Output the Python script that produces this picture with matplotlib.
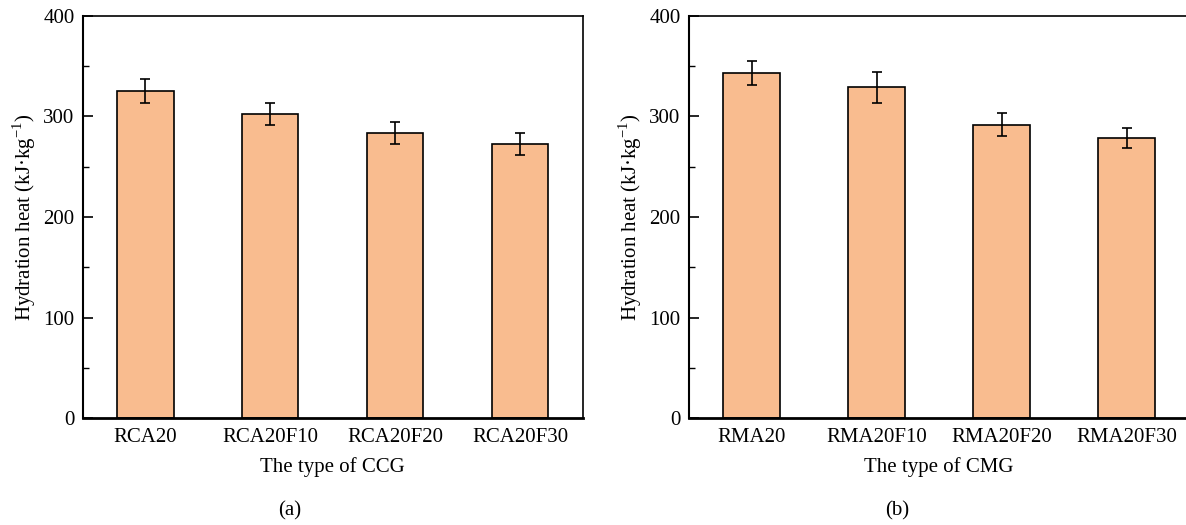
import numpy as np
import matplotlib
matplotlib.use('Agg')
import matplotlib.pyplot as plt
from matplotlib.ticker import MultipleLocator

plt.rcParams['font.family'] = ['Liberation Serif', 'DejaVu Serif']
plt.rcParams['mathtext.fontset'] = 'custom'
plt.rcParams['mathtext.rm'] = 'Liberation Serif'

# 数据
ccg_labels = ['RCA20', 'RCA20F10', 'RCA20F20', 'RCA20F30']
ccg_heat = [325.3, 302.5, 283.3, 272.7]
ccg_err = [11.9, 11.0, 10.8, 10.8]

cmg_labels = ['RMA20', 'RMA20F10', 'RMA20F20', 'RMA20F30']
cmg_heat = [343.3, 328.7, 291.8, 278.6]
cmg_err = [11.9, 15.0, 11.3, 10.3]

BAR_COLOR = '#F9BC8F'
FS = 15

fig = plt.figure(figsize=(11.86, 5.25), dpi=100)
W, H = 1186.0, 525.0
ax_a = fig.add_axes([83 / W, 1 - 418.3 / H, (582.7 - 83) / W, (418.3 - 15.7) / H])
ax_b = fig.add_axes([689 / W, 1 - 418.3 / H, (1189 - 689) / W, (418.3 - 15.7) / H])


def draw_panel(ax, labels, heat, err, xlabel):
    x = np.arange(len(labels))
    ax.bar(x, heat, width=0.45, color=BAR_COLOR, edgecolor='black', linewidth=1.2, zorder=2)
    ax.errorbar(x, heat, yerr=err, fmt='none', ecolor='black', elinewidth=1.2,
                capsize=3.5, capthick=1.2, zorder=3)
    ax.set_xlim(-0.5, len(labels) - 0.5)
    ax.set_ylim(0, 400)
    ax.set_xticks(x)
    ax.set_xticklabels(labels, fontsize=FS)
    ax.yaxis.set_major_locator(MultipleLocator(100))
    ax.yaxis.set_minor_locator(MultipleLocator(50))
    ax.tick_params(axis='y', which='major', direction='in', length=7, width=1.2, labelsize=FS, pad=6)
    ax.tick_params(axis='y', which='minor', direction='in', length=4, width=1.0)
    ax.tick_params(axis='x', which='major', direction='in', length=6, width=1.2, pad=7)
    ax.spines['left'].set_linewidth(1.5)
    ax.spines['bottom'].set_linewidth(2.0)
    ax.spines['top'].set_linewidth(1.2)
    ax.spines['right'].set_linewidth(1.2)
    ax.set_xlabel(xlabel, fontsize=FS, labelpad=7)
    ax.set_ylabel('Hydration heat (kJ\u00b7kg$^{\\mathregular{-1}}$)', fontsize=FS, labelpad=4)


draw_panel(ax_a, ccg_labels, ccg_heat, ccg_err, 'The type of CCG')
draw_panel(ax_b, cmg_labels, cmg_heat, cmg_err, 'The type of CMG')

fig.text(290 / W, 1 - 511 / H, '(a)', ha='center', va='center', fontsize=FS)
fig.text(897 / W, 1 - 511 / H, '(b)', ha='center', va='center', fontsize=FS)

fig.savefig('out.png', dpi=100)
plt.close(fig)
